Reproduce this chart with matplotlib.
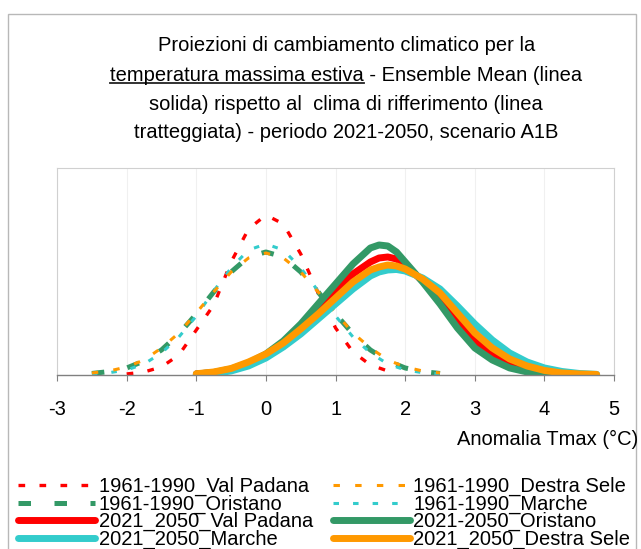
import numpy as np
import matplotlib
matplotlib.use("Agg")
import matplotlib.pyplot as plt
from matplotlib.lines import Line2D
from matplotlib.patches import Rectangle

plt.rcParams['font.family'] = ['Liberation Sans', 'DejaVu Sans']

# clima di riferimento 1961-1990 (linee tratteggiate)
x_ref = [-2.5, -2.25, -2.0, -1.75, -1.5, -1.25, -1.0, -0.75, -0.5, -0.25, 0.0,
         0.25, 0.5, 0.75, 1.0, 1.25, 1.5, 1.75, 2.0, 2.25, 2.5]
x_ref_vp = [-2.0, -1.75, -1.5, -1.25, -1.0, -0.75, -0.5, -0.25, 0.0,
            0.25, 0.5, 0.75, 1.0, 1.25, 1.5, 1.75]
vp_61 = [1, 3, 8, 20, 45, 70, 113, 146, 160, 151, 121, 82, 47, 23, 10, 4]
or_61 = [1.5, 3.4, 7, 14, 25, 41, 61, 83, 103, 118, 123, 118, 103, 83, 61, 41, 25, 14, 7, 3.4, 1.5]
ma_61 = [1, 2.3, 5, 11, 22, 38, 59, 84, 107, 125, 131, 125, 107, 84, 59, 38, 22, 11, 5, 2.3, 1]
ds_61 = [2, 4, 8, 15, 27, 42, 62, 83, 103, 117, 122, 117, 103, 83, 62, 42, 27, 15, 8, 4, 2]

# scenario 2021-2050 (linee solide)
x_fut = [-1.0, -0.75, -0.5, -0.25, 0.0, 0.25, 0.5, 0.75, 1.0, 1.25, 1.5, 1.625, 1.75, 1.875,
         2.0, 2.25, 2.5, 2.75, 3.0, 3.25, 3.5, 3.75, 4.0, 4.25, 4.5, 4.75]
nan = np.nan
vp_21 = [1, 2.3, 5, 11, 20, 32, 48, 66, 84, 101, 113, 117, 118, 116, 110, 94, 76, 54, 34, 20, 12, 6, 3, 1.3, 0.5, nan]
or_21 = [1, 2.5, 6, 12, 21, 34, 51, 71, 91, 111, 127, 130, 129, 123, 113, 93, 71, 47, 27, 15, 7, 3, 1.2, 0.5, nan, nan]
ma_21 = [0.5, 1.5, 4, 9, 17, 28, 41, 56, 71, 86, 99, 103, 105, 105.5, 104, 97, 86, 69, 51, 35, 22, 13, 7, 3.5, 1.5, 0.6]
ds_21 = [1.2, 3, 6.5, 13, 21, 32, 46, 61, 77, 93, 105, 108, 110, 109, 106, 96, 82, 62, 42, 27, 16, 9, 4.5, 2, 1, 0.5]

xticks = [-3, -2, -1, 0, 1, 2, 3, 4, 5]

RED = '#ff0000'
GREEN = '#339966'
ORANGE = '#ff9900'
CYAN = '#33cccc'
FS = 14.5

fig = plt.figure(figsize=(6.41, 5.49), dpi=100)
ax = fig.add_axes([0.089, 0.317, 0.869, 0.377])

# tratteggiate
l1, = ax.plot(x_ref_vp, vp_61, color=RED, lw=2.4, dashes=(2, 4.3), label='1961-1990_Val Padana')
l2, = ax.plot(x_ref, or_61, color=GREEN, lw=3.6, dashes=(2.5, 4.7), label='1961-1990_Oristano')
l3, = ax.plot(x_ref, ma_61, color=CYAN, lw=2.2, dashes=(1.8, 4.6), label='1961-1990_Marche')
l4, = ax.plot(x_ref, ds_61, color=ORANGE, lw=2.2, dashes=(2.1, 5), label='1961-1990_Destra Sele')
# solide
l5, = ax.plot(x_fut, vp_21, color=RED, lw=5, label='2021_2050_Val Padana', solid_capstyle='round')
l6, = ax.plot(x_fut, or_21, color=GREEN, lw=5, label='2021-2050_Oristano', solid_capstyle='round')
l7, = ax.plot(x_fut, ma_21, color=CYAN, lw=5, label='2021_2050_Marche', solid_capstyle='round')
l8, = ax.plot(x_fut, ds_21, color=ORANGE, lw=5, label='2021_2050_Destra Sele', solid_capstyle='round')

ax.set_xlim(-3, 5)
ax.set_ylim(0, 207)
ax.set_xticks(xticks)
ax.set_xticklabels([str(t) for t in xticks], fontsize=FS)
ax.set_yticks([])
ax.tick_params(axis='x', direction='out', length=4, color='#808080', pad=14)
for t in xticks:
    ax.axvline(t, color='#f0f0f0', lw=0.8, zorder=0)
for s in ['top', 'right', 'left']:
    ax.spines[s].set_color('#d0d0d0')
    ax.spines[s].set_linewidth(0.8)
ax.spines['bottom'].set_color('#808080')
ax.spines['bottom'].set_linewidth(1.0)

fig.text(0.995, 0.199, 'Anomalia Tmax (°C)', ha='right', va='center', fontsize=FS)

# titolo
title_lines = ['Proiezioni di cambiamento climatico per la',
               'temperatura massima estiva - Ensemble Mean (linea',
               'solida) rispetto al  clima di rifferimento (linea',
               'tratteggiata) - periodo 2021-2050, scenario A1B']
title_y = [0.918, 0.863, 0.809, 0.758]
tt = []
for s, y in zip(title_lines, title_y):
    tt.append(fig.text(0.54, y, s, ha='center', va='center', fontsize=FS))

# sottolineatura di "temperatura massima estiva"
fig.canvas.draw()
r = fig.canvas.get_renderer()
bb = tt[1].get_window_extent(r)
tmp = fig.text(0, 0, 'temperatura massima estiva', fontsize=FS)
w = tmp.get_window_extent(r).width
tmp.remove()
fw = fig.bbox.width
x0 = bb.x0 / fw
yu = bb.y0 / fig.bbox.height + 0.004
fig.add_artist(Line2D([x0, x0 + w / fw], [yu, yu], transform=fig.transFigure, color='#222222', lw=1.3))

# cornice esterna
fig.add_artist(Rectangle((8 / 641, -0.01), (636 - 8) / 641, 1.01 - 14 / 549,
                         transform=fig.transFigure, fill=False, ec='#b8b8b8', lw=1))

handles = [l1, l2, l5, l7, l4, l3, l6, l8]
fig.legend(handles=handles, labels=[h.get_label() for h in handles], ncol=2,
           loc='lower left', bbox_to_anchor=(0.028, 0.0), frameon=False,
           fontsize=FS, handlelength=3.85, handletextpad=0.15, columnspacing=1.0,
           labelspacing=-0.085, borderpad=0, borderaxespad=0)

fig.savefig('out.png', dpi=100)
